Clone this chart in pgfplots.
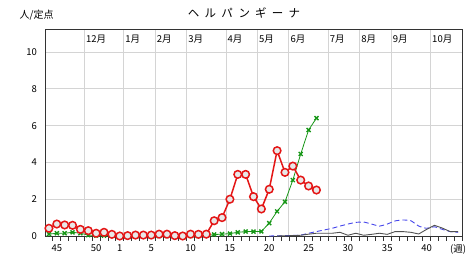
\documentclass[border=0pt]{standalone}
\usepackage{fontspec}
\setmainfont{Noto Sans CJK JP}
\usepackage{pgfplots}
\pgfplotsset{compat=1.18}
\definecolor{cred}{RGB}{228,22,22}
\definecolor{cgreen}{RGB}{22,150,22}
\definecolor{cblue}{RGB}{70,70,235}
\definecolor{cgray}{RGB}{80,80,80}
\definecolor{cfill}{RGB}{232,232,232}
\begin{document}
\begin{tikzpicture}
\path[use as bounding box] (-45pt,-26pt) rectangle (425pt,236pt);
\node[font=\fontsize{11.5}{12}\selectfont\addfontfeatures{LetterSpace=45}] at (199pt,222.7pt) {ヘルパンギーナ};
\node[font=\fontsize{10}{12}\selectfont] at (-8.3pt,221pt) {人/定点};
\begin{axis}[
 scale only axis, width=417pt, height=206pt,
 xmin=-1.5, xmax=51.5, ymin=0, ymax=11.2,
 axis line style={draw=black!80, line width=1pt},
 ytick={0,2,...,10}, ymajorgrids,
 grid style={draw=black!17, line width=0.9pt},
 xtick={0,5,8,12,17,22,27,32,37,42,47,51},
 xticklabels={45,50,1,5,10,15,20,25,30,35,40,(週)},
 minor xtick={-0.5,0.5,...,51.5},
 xtick pos=bottom, ytick pos=left,
 major tick length=0pt, minor tick length=4.5pt, tick align=outside,
 minor tick style={draw=black!80, line width=0.8pt},
 extra x ticks={3.5,8.5,12.5,16.5,21.5,25.5,29.5,34.5,38.5,42.5,47.5},
 extra x tick labels={},
 extra x tick style={xmajorgrids=true, major tick length=0pt},
 tick label style={font=\fontsize{9.5}{10}\selectfont},
 yticklabel style={anchor=east, inner sep=0pt, xshift=-8pt},
 xticklabel style={anchor=north, inner sep=0pt, yshift=-8.5pt},
 /pgf/number format/assume math mode=true,
 clip=false,
]
\foreach \xx/\mm in {3.5/12月,8.5/1月,12.5/2月,16.5/3月,21.5/4月,25.5/5月,29.5/6月,34.5/7月,38.5/8月,42.5/9月,47.5/10月}{
 \edef\tmp{\noexpand\node[anchor=west, inner sep=0pt, xshift=1.5pt, font=\noexpand\fontsize{9.5}{10}\noexpand\selectfont] at (axis cs:\xx,10.72) {\mm};}
 \tmp
}
\addplot[cblue, line width=0.9pt, dash pattern=on 5pt off 3pt, smooth, tension=0.3] coordinates {
(27,0)(28,0.01)(29,0.02)(30,0.03)(31,0.05)(32,0.15)(33,0.24)(34,0.33)(35,0.42)(36,0.54)(37,0.65)(38,0.74)(39,0.76)(40,0.65)(41,0.54)(42,0.65)(43,0.82)(44,0.87)(45,0.83)(46,0.54)(47,0.42)(48,0.5)(49,0.36)(50,0.24)(51,0.2)};
\addplot[cgray, line width=0.9pt] coordinates {
(28,0)(29,0.01)(30,0.02)(31,0.04)(32,0.1)(33,0.15)(34,0.15)(35,0.15)(36,0.2)(37,0.04)(38,0.15)(39,0.04)(40,0.09)(41,0.15)(42,0.09)(43,0.24)(44,0.24)(45,0.2)(46,0.11)(47,0.36)(48,0.58)(49,0.43)(50,0.24)(51,0.24)};
\addplot[cgreen, line width=0.8pt, mark=x, mark size=2.8pt, mark options={line width=1.4pt}] coordinates {
(-1,0.1)(0,0.15)(1,0.15)(2,0.2)(3,0.15)(4,0.05)(5,0.02)(6,0.02)(7,0.02)(8,0)(9,0)(10,0)(11,0)(12,0)(13,0)(14,0)(15,0)(16,0)(17,0)(18,0)(19,0.02)(20,0.08)(21,0.1)(22,0.13)(23,0.2)(24,0.24)(25,0.24)(26,0.25)(27,0.7)(28,1.34)(29,1.86)(30,3.04)(31,4.46)(32,5.76)(33,6.41)};
\addplot[cred, line width=1.5pt, mark=*, mark size=3.8pt, mark options={fill=cfill, draw=cred, line width=1.5pt}] coordinates {
(-1,0.42)(0,0.65)(1,0.6)(2,0.58)(3,0.36)(4,0.29)(5,0.15)(6,0.2)(7,0.09)(8,0)(9,0.02)(10,0.05)(11,0.05)(12,0.05)(13,0.1)(14,0.1)(15,0.02)(16,0)(17,0.1)(18,0.09)(19,0.1)(20,0.83)(21,1.0)(22,2.0)(23,3.35)(24,3.35)(25,2.14)(26,1.47)(27,2.54)(28,4.64)(29,3.46)(30,3.8)(31,3.04)(32,2.72)(33,2.5)};
\end{axis}
\end{tikzpicture}
\end{document}
